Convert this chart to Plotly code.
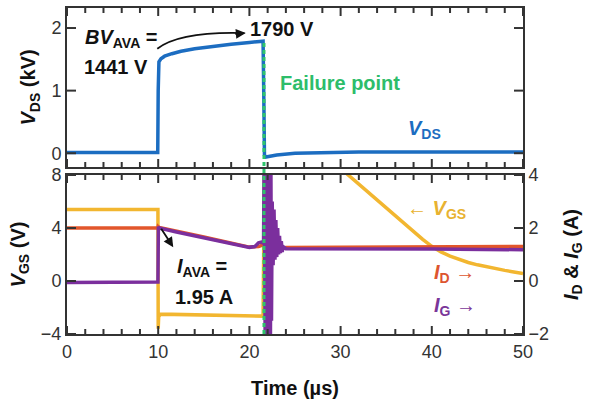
import plotly.graph_objects as go

# ---- measured waveforms -------------------------------------------------
# Drain-source voltage (kV)
t_vds = [0, 5, 9.95, 10.0, 10.08, 10.3, 10.7, 11.5, 12.5, 14, 16, 18, 20, 21.5,
         21.58, 21.65, 21.8, 22.2, 23, 25, 28, 32, 40, 50]
vds = [0.01, 0.01, 0.01, 1.0, 1.46, 1.51, 1.55, 1.59, 1.63, 1.67, 1.71, 1.74, 1.77, 1.79,
       0.9, -0.03, -0.06, -0.05, -0.03, 0.0, 0.01, 0.02, 0.02, 0.02]

# Gate-source voltage (V)
t_vgs = [0, 9.97, 10.0, 10.05, 10.25, 15, 21.5, 21.7, 23, 26, 28,
         30, 31, 32, 33, 34, 35, 36, 37, 38, 39, 40, 41, 42, 43, 44, 45, 46, 47, 48, 49, 50]
vgs = [5.4, 5.4, -3.6, -2.7, -2.5, -2.55, -2.65, 12, 14, 11, 9.4,
       8.5, 7.9, 7.35, 6.75, 6.15, 5.55, 4.95, 4.35, 3.75, 3.15, 2.62, 2.2, 1.88, 1.62, 1.4,
       1.22, 1.06, 0.92, 0.8, 0.68, 0.57]

# Drain current (A)
t_id = [0, 9.97, 10.0, 10.1, 15, 20, 21.0, 21.5, 21.6, 21.8, 22.0, 22.3, 22.6, 23.0,
        23.5, 24, 30, 40, 50]
i_d = [2.0, 2.0, 2.05, 2.02, 1.66, 1.28, 1.3, 1.36, 1.5, 2.5, 0.5, 2.0, 1.0, 1.4,
       1.2, 1.26, 1.27, 1.28, 1.3]

# Gate current (A)
t_ig = [0, 5, 9.97, 10.02, 10.1, 12, 14, 16, 18, 20, 20.6, 21.0, 21.3, 21.55,
        21.62, 21.66, 21.70, 21.74, 21.78, 21.82, 21.86, 21.90, 21.94, 21.98, 22.02,
        22.06, 22.10, 22.14, 22.18, 22.22, 22.26, 22.30, 22.36, 22.42, 22.5, 22.6,
        22.7, 22.8, 22.9, 23.0, 23.1, 23.2, 23.3, 23.4, 23.5, 23.6, 23.7, 24, 30, 40, 50]
i_g = [-0.06, -0.05, -0.04, 2.05, 2.0, 1.85, 1.7, 1.55, 1.41, 1.27, 1.3, 1.44, 1.47, 1.42,
       5, -3, 5, -3, 5, -3, 5, -3, 5, -3, 5,
       -3, 5, -3, 5, -3, 5, -3, 4.2, -1.5, 3.0, 0.6,
       2.7, 0.8, 2.3, 0.9, 2.0, 1.0, 1.7, 1.05, 1.5, 1.1, 1.3, 1.22, 1.22, 1.21, 1.18]

# Key values
t_fail = 21.6
bv_ava = 1441
v_peak = 1790
i_ava = 1.95

# Tick values
x_major = [0, 10, 20, 30, 40, 50]
x_minor = [2, 4, 6, 8, 12, 14, 16, 18, 22, 24, 26, 28, 32, 34, 36, 38, 42, 44, 46, 48]
vds_ticks = [0, 1, 2]
vgs_ticks = [-4, 0, 4, 8]
i_ticks = [-2, 0, 2, 4]

# ---- styling -------------------------------------------------------------
FONT = "Arial, Liberation Sans, sans-serif"
AX = "#333333"
C_VDS = "#1c6dc1"
C_VGS = "#f2b630"
C_ID = "#e2562b"
C_IG = "#7b2f9d"
C_FAIL = "#2ec46c"

W, H = 590, 401
M_L, M_R, M_T, M_B = 67, 67, 8, 67
X_RANGE = [0, 50]
VDS_RANGE = [-0.22, 2.32]
VGS_RANGE = [-4, 8]
I_RANGE = [-2, 4]
TOP_DOM = [0.5123, 1.0]
BOT_DOM = [0.0, 0.4877]

fig = go.Figure()

fig.add_trace(go.Scatter(x=t_vds, y=vds, mode="lines", line=dict(color=C_VDS, width=3.5),
                         xaxis="x", yaxis="y", showlegend=False))
fig.add_trace(go.Scatter(x=t_vgs, y=vgs, mode="lines", line=dict(color=C_VGS, width=3.5),
                         xaxis="x2", yaxis="y2", showlegend=False))
fig.add_trace(go.Scatter(x=t_id, y=i_d, mode="lines", line=dict(color=C_ID, width=3.5),
                         xaxis="x2", yaxis="y3", showlegend=False))
fig.add_trace(go.Scatter(x=t_ig, y=i_g, mode="lines", line=dict(color=C_IG, width=3.5),
                         xaxis="x2", yaxis="y3", showlegend=False))

tick_font = dict(family=FONT, size=18, color=AX)
title_font = dict(family=FONT, size=20, color="#111111")

xcommon = dict(range=X_RANGE, tickmode="array", tickvals=x_major, ticks="",
               showline=True, linecolor=AX, linewidth=2, mirror=True,
               showgrid=False, zeroline=False, tickfont=tick_font, automargin=False)
ycommon = dict(tickmode="array", ticks="", showline=True, linecolor=AX, linewidth=2,
               showgrid=False, zeroline=False, tickfont=tick_font, automargin=False)

fig.update_layout(
    width=W, height=H,
    margin=dict(l=M_L, r=M_R, t=M_T, b=M_B, autoexpand=False),
    paper_bgcolor="white", plot_bgcolor="white",
    font=dict(family=FONT, color="#111111"),
    xaxis=dict(**xcommon, anchor="y", showticklabels=False),
    xaxis2=dict(**xcommon, anchor="y2", matches="x",
                title=dict(text="<b>Time (µs)</b>", font=title_font, standoff=20)),
    yaxis=dict(**ycommon, domain=TOP_DOM, range=VDS_RANGE, tickvals=vds_ticks,
               mirror=True, anchor="x",
               title=dict(text="<b><i>V</i><sub>DS</sub> (kV)</b>", font=title_font,
                          standoff=10)),
    yaxis2=dict(**ycommon, domain=BOT_DOM, range=VGS_RANGE, tickvals=vgs_ticks,
                anchor="x2",
                title=dict(text="<b><i>V</i><sub>GS</sub> (V)</b>", font=title_font,
                           standoff=10)),
    yaxis3=dict(**ycommon, range=I_RANGE, tickvals=i_ticks, side="right",
                overlaying="y2", anchor="x2",
                title=dict(text="<b><i>I</i><sub>D</sub> & <i>I</i><sub>G</sub> (A)</b>",
                           font=title_font, standoff=16)),
)

# ---- inward tick marks on every frame edge (lengths given in pixels) ----
plot_w = W - M_L - M_R
plot_h = H - M_T - M_B


def px_to_units(px, rng, dom):
    return px * (rng[1] - rng[0]) / (plot_h * (dom[1] - dom[0]))


x_per_px = (X_RANGE[1] - X_RANGE[0]) / plot_w
tick_line = dict(color=AX, width=2)


def add_tick(xref, yref, x0, x1, y0, y1):
    fig.add_shape(type="line", xref=xref, yref=yref, x0=x0, x1=x1, y0=y0, y1=y1,
                  line=tick_line, layer="above")


for xr, yr, rng, dom in (("x", "y", VDS_RANGE, TOP_DOM), ("x2", "y2", VGS_RANGE, BOT_DOM)):
    for vals, length in ((x_major, 8), (x_minor, 5)):
        d = px_to_units(length, rng, dom)
        for v in vals:
            add_tick(xr, yr, v, v, rng[0], rng[0] + d)
            add_tick(xr, yr, v, v, rng[1] - d, rng[1])

dx = 9 * x_per_px
for v in vds_ticks:
    add_tick("x", "y", X_RANGE[0], X_RANGE[0] + dx, v, v)
    add_tick("x", "y", X_RANGE[1] - dx, X_RANGE[1], v, v)
for v in vgs_ticks:
    add_tick("x2", "y2", X_RANGE[0], X_RANGE[0] + dx, v, v)
for v in i_ticks:
    add_tick("x2", "y3", X_RANGE[1] - dx, X_RANGE[1], v, v)

# Failure marker: dashed vertical line from the V_DS peak down through both panels
peak_paper = TOP_DOM[0] + (v_peak / 1000 - VDS_RANGE[0]) / (VDS_RANGE[1] - VDS_RANGE[0]) * (TOP_DOM[1] - TOP_DOM[0])
fig.add_shape(type="line", xref="x", yref="paper", x0=t_fail, x1=t_fail,
              y0=0, y1=peak_paper, line=dict(color=C_FAIL, width=3, dash="4px,3px"),
              layer="above")

# Curved arrow from the BV_AVA label to the peak voltage
fig.add_shape(type="path", xref="x", yref="y",
              path="M 9.9,1.67 Q 12.4,1.95 19.45,1.92",
              line=dict(color="#111111", width=1.8))
fig.add_annotation(xref="x", yref="y", x=19.6, y=1.92, ax=-12, ay=1, text="",
                   showarrow=True, arrowhead=2, arrowsize=1.1, arrowwidth=1.8,
                   arrowcolor="#111111")

lab = dict(family=FONT, size=20)
fig.add_annotation(xref="x", yref="y", x=1.8, y=1.83, xanchor="left", yanchor="middle",
                   text="<b><i>BV</i><sub>AVA</sub> =</b>", showarrow=False,
                   font=dict(**lab, color="#111111"))
fig.add_annotation(xref="x", yref="y", x=1.6, y=1.37, xanchor="left", yanchor="middle",
                   text=f"<b>{bv_ava} V</b>", showarrow=False,
                   font=dict(**lab, color="#111111"))
fig.add_annotation(xref="x", yref="y", x=19.9, y=1.99, xanchor="left", yanchor="middle",
                   text=f"<b>{v_peak} V</b>", showarrow=False,
                   font=dict(**lab, color="#111111"))
fig.add_annotation(xref="x", yref="y", x=23.1, y=1.12, xanchor="left", yanchor="middle",
                   text="<b>Failure point</b>", showarrow=False,
                   font=dict(**lab, color="#2dbd6a"))
fig.add_annotation(xref="x", yref="y", x=37.2, y=0.38, xanchor="left", yanchor="middle",
                   text="<b><i>V</i><sub>DS</sub></b>", showarrow=False,
                   font=dict(**lab, color=C_VDS))

# Bottom panel labels
fig.add_annotation(xref="x2", yref="y2", x=11.65, y=2.55, ax=-13, ay=-20, text="",
                   showarrow=True, arrowhead=2, arrowsize=1.1, arrowwidth=1.8,
                   arrowcolor="#111111")
fig.add_annotation(xref="x2", yref="y2", x=11.8, y=1.05, xanchor="left", yanchor="middle",
                   text="<b><i>I</i><sub>AVA</sub> =</b>", showarrow=False,
                   font=dict(**lab, color="#111111"))
fig.add_annotation(xref="x2", yref="y2", x=11.6, y=-1.2, xanchor="left", yanchor="middle",
                   text=f"<b>{i_ava} A</b>", showarrow=False,
                   font=dict(**lab, color="#111111"))
fig.add_annotation(xref="x2", yref="y2", x=37.1, y=5.4, xanchor="left", yanchor="middle",
                   text="<b>← <i>V</i><sub>GS</sub></b>", showarrow=False,
                   font=dict(**lab, color="#e8b230"))
fig.add_annotation(xref="x2", yref="y2", x=40.0, y=0.6, xanchor="left", yanchor="middle",
                   text="<b><i>I</i><sub>D</sub> →</b>", showarrow=False,
                   font=dict(**lab, color="#dd5530"))
fig.add_annotation(xref="x2", yref="y2", x=40.0, y=-1.9, xanchor="left", yanchor="middle",
                   text="<b><i>I</i><sub>G</sub> →</b>", showarrow=False,
                   font=dict(**lab, color="#7a3699"))

fig.write_html("out.html")
